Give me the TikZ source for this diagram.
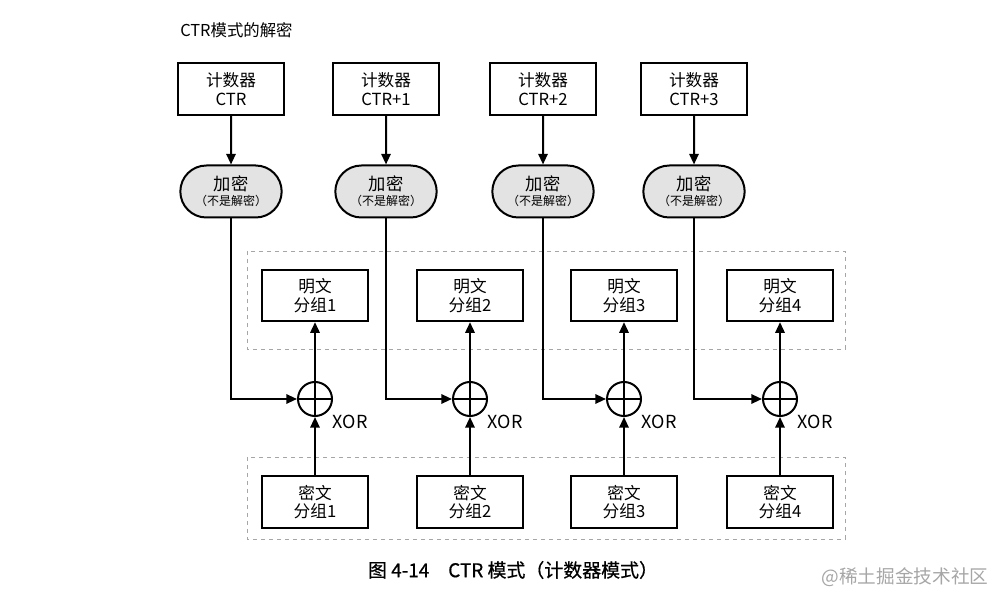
\documentclass[tikz,border=0pt]{standalone}
\usepackage{fontspec}
\setmainfont{Noto Sans CJK SC}
\newfontfamily\capfont{Noto Sans CJK SC}[FakeBold=0.6]
\usetikzlibrary{arrows.meta,shapes.misc}

\tikzset{
  blockbox/.style={draw,line width=1.5pt,minimum width=79pt,minimum height=38.5pt,
    align=center,inner sep=1pt,font=\fontsize{12.5}{14}\selectfont},
  encbox/.style={draw,line width=1.5pt,rounded rectangle,fill=gray!22,
    minimum width=78pt,minimum height=39pt,align=center,inner sep=1pt},
  xorop/.style={draw,line width=1.5pt,circle,minimum size=25.5pt,inner sep=0pt,
    path picture={\draw[line width=1.5pt] (path picture bounding box.north) -- (path picture bounding box.south)
      (path picture bounding box.west) -- (path picture bounding box.east);}},
  flow/.style={line width=1.5pt,-{Triangle[length=8pt,width=7pt]}},
  groupbox/.style={draw=gray!70,dashed,line width=0.7pt},
}

\begin{document}
\begin{tikzpicture}[x=0.75pt,y=-0.75pt]
    \useasboundingbox (0,0) rectangle (1005,605);

    \node[anchor=west,inner sep=0pt,font=\fontsize{12.3}{14}\selectfont] (title) at (180,30) {CTR模式的解密};

    % Plaintext and ciphertext groups
    \draw[groupbox] (247,251) rectangle (845,349);
    \draw[groupbox] (247,457) rectangle (845,539);

    \foreach \i/\xa/\xb/\ctr in {1/231/315/CTR,2/386/470/CTR+1,3/543/624/CTR+2,4/694/780/CTR+3}{
        \node[blockbox] (ctr\i) at (\xa,89) {计数器\\\ctr};
        \node[encbox] (enc\i) at (\xa,191.5) {{\fontsize{13}{14}\selectfont 加密}\\[-1pt]{\fontsize{9}{10}\selectfont （不是解密）}};
        \node[blockbox] (pt\i) at (\xb,295.5) {明文\\分组\i};
        \node[xorop] (xor\i) at (\xb,399) {};
        \node[anchor=west,font=\fontsize{13.5}{15}\selectfont] (lbl\i) at (\xb+13,422) {XOR};
        \node[blockbox] (ct\i) at (\xb,502) {密文\\分组\i};

        \draw[flow] (ctr\i) -- (enc\i);
        \draw[flow] (enc\i.south) |- (xor\i.west);
        \draw[flow] (xor\i) -- (pt\i);
        \draw[flow] (ct\i) -- (xor\i);
    }

    % Caption
    \node[font=\capfont\fontsize{14.2}{16}\selectfont] (caption) at (513,570) {图 4-14\quad CTR 模式（计数器模式）};
    \node[text=gray!70,font=\fontsize{14}{15}\selectfont] (mark) at (905,577) {@稀土掘金技术社区};
\end{tikzpicture}
\end{document}
